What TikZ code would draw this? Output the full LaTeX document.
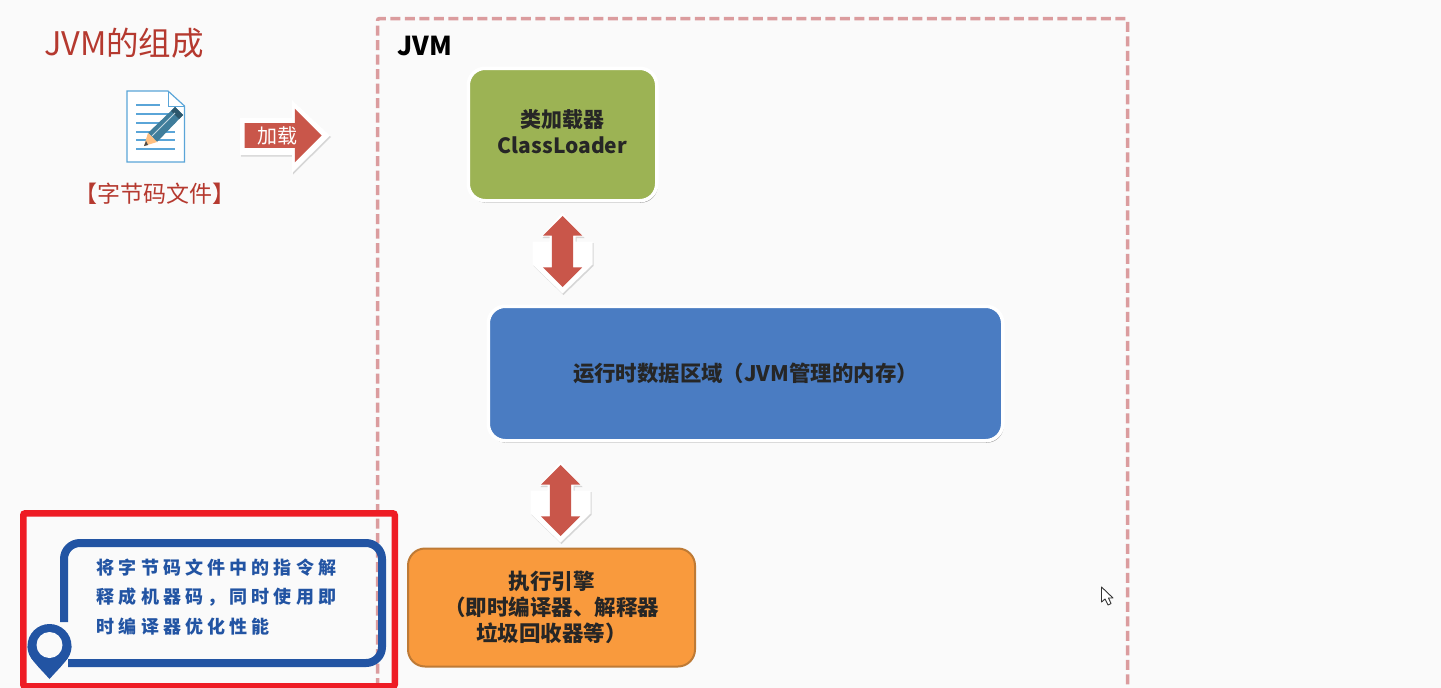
\documentclass[tikz,border=0pt]{standalone}
\usepackage{fontspec}
\setmainfont{Noto Sans CJK SC}
\usetikzlibrary{arrows}
\usetikzlibrary{shapes.arrows, shadows}
\definecolor{pagegray}{HTML}{FAFAFA}
\definecolor{titlered}{HTML}{B5392F}
\definecolor{arrowred}{HTML}{C9564A}
\definecolor{dashred}{HTML}{DB9C9E}
\definecolor{boxred}{HTML}{EE1C25}
\definecolor{tipblue}{HTML}{2254A3}
\definecolor{docblue}{HTML}{5AA5D8}
\definecolor{loadergreen}{HTML}{9CB354}
\definecolor{areablue}{HTML}{4A7CC2}
\definecolor{engineorange}{HTML}{F99A3D}
\definecolor{engineedge}{HTML}{BE7A35}
\definecolor{pencilblue}{HTML}{3F7D9B}
\tikzset{
	softshadow/.style={drop shadow={shadow xshift=1pt,shadow yshift=-2pt,opacity=.4,fill=black}},
	backshadow/.style={fill=white,drop shadow={shadow xshift=1pt,shadow yshift=-1.5pt,opacity=.14,fill=black}},
	partbox/.style={rounded corners=17pt,draw=white,line width=3.5pt,softshadow,text=black!85,font=\bfseries\fontsize{21}{26}\selectfont,align=center,inner sep=0pt},
	updown/.style={double arrow,rotate=90,fill=arrowred,minimum height=71pt,minimum width=39pt,double arrow head extend=9pt,double arrow head indent=0pt,inner sep=0pt,text width=0pt,text height=21pt,text depth=0pt}
}
\begin{document}
\begin{tikzpicture}[x=1pt,y=-1pt]
\useasboundingbox (0,0) rectangle (1441,688);
\fill[pagegray] (0,0) rectangle (1441,688);
\node[text=titlered,font=\fontsize{32.5}{38}\selectfont,inner sep=0pt] (title) at (124,43) {JVM的组成};
\coordinate (jvmbl) at (377.5,688);
\coordinate (jvmtl) at (377.5,18.5);
\coordinate (jvmtr) at (1127.5,18.5);
\coordinate (jvmbr) at (1127.5,688);
\draw[dashred,line width=3.5pt,dash pattern=on 10pt off 4.5pt,rounded corners=2pt] (jvmbl) -- (jvmtl) -- (jvmtr) -- (jvmbr);
\node[font=\bfseries\fontsize{26}{30}\selectfont,inner sep=0pt] (jvm) at (425,46) {JVM};
\draw[docblue,line width=1.2pt,fill=white] (127,91) -- (168,91) -- (184.5,106) -- (184.5,162) -- (127,162) -- cycle;
\draw[docblue,line width=1pt] (168,91) -- (168,106) -- (184.5,106);
\draw[docblue,line width=1.1pt] (136,105) -- (160,105);
\foreach \y in {114,123,132,140,149}
	\draw[docblue,line width=1.1pt] (136,\y) -- (175,\y);
\fill[pencilblue] (148,133) -- (175,107) -- (183,115) -- (157,142) -- cycle;
\fill[pencilblue!70!black] (171,111) -- (175,107) -- (183,115) -- (179,119) -- cycle;
\draw[white!70!pencilblue,line width=.8pt] (152,136) -- (175,113);
\fill[orange!50!white] (148,133) -- (157,142) -- (144,146) -- cycle;
\fill[black!70] (146,141) -- (148,145) -- (144,146) -- cycle;
\node[text=titlered,font=\fontsize{23}{26}\selectfont,inner sep=0pt] (bytecode) at (155,194) {【字节码文件】};
\fill[backshadow] (240,118) -- (292,118) -- (292,100) -- (330,135.5) -- (292,173) -- (292,155) -- (240,155) -- cycle;
\node[single arrow,fill=arrowred,minimum height=77pt,single arrow head extend=14.5pt,single arrow head indent=0pt,inner xsep=11pt,inner ysep=3pt,text=white,font=\fontsize{20}{22}\selectfont] (load) at (277,135.5) {加载};
\node[partbox,fill=loadergreen,minimum width=188.5pt,minimum height=132.5pt] (loader) at (562.5,134.5) {类加载器\\ClassLoader\rule[-5pt]{0pt}{1pt}};
\foreach \cx/\cy in {562.5/251.5,560.5/500.5}
	\fill[backshadow,shift={(\cx,\cy)}] (0,-39) -- (21,-15) -- (13,-15) -- (13,-10) -- (30,-10) -- (30,13) -- (0,42) -- (-30,13) -- (-30,-10) -- (-13,-10) -- (-13,-15) -- (-21,-15) -- cycle;
\node[updown] (up1) at (562.5,251.5) {};
\node[partbox,fill=areablue,minimum width=514.5pt,minimum height=134.5pt,font=\bfseries\fontsize{21.4}{26}\selectfont] (area) at (745.5,373.5) {运行时数据区域（JVM管理的内存）};
\node[updown] (up2) at (560.5,500.5) {};
\node[rounded corners=17pt,fill=engineorange,draw=engineedge,line width=2pt,minimum width=287pt,minimum height=118pt,text=black!85,font=\bfseries\fontsize{21.5}{26}\selectfont,align=center,inner sep=0pt] (engine) at (551.5,607.5) {执行引擎\\（即时编译器、解释器\\垃圾回收器等）};
\node[draw=boxred,line width=6.5pt,rounded corners=2pt,minimum width=371.5pt,minimum height=173pt,inner sep=0pt] (mark) at (209,599.8) {};
\draw[tipblue,line width=8pt,rounded corners=16pt] (64,622) -- (64,543) -- (382,543) -- (382,663) -- (68,663);
\fill[tipblue] (49.5,679) .. controls (40,668) and (27.5,658) .. (27.5,646) -- (71.5,646) .. controls (71.5,658) and (59,668) .. (49.5,679) -- cycle;
\fill[tipblue] (49.5,646) circle[radius=22pt];
\fill[pagegray] (49.5,645) circle[radius=13pt];
\node[text=tipblue,font=\bfseries\fontsize{18}{29.5}\selectfont\addfontfeatures{LetterSpace=23},align=left,inner sep=0pt] (tip) at (216.5,597) {将字节码文件中的指令解\\释成机器码，同时使用即\\时编译器优化性能};
\draw[black!80,line width=.9pt,fill=white,line join=round] (1101.5,587) -- (1101.5,602) -- (1105,599) -- (1108,605) -- (1111,603.5) -- (1108.5,598) -- (1113,598) -- cycle;
\end{tikzpicture}
\end{document}
